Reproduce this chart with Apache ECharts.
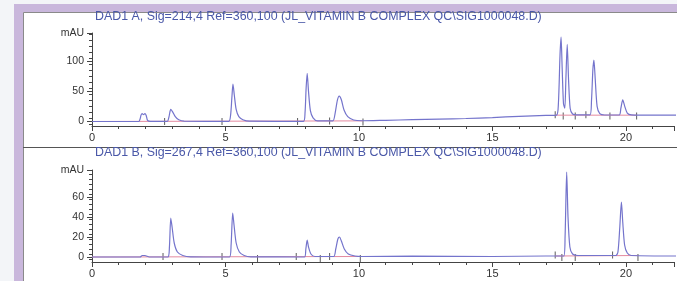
<!DOCTYPE html>
<html>
<head>
<meta charset="utf-8">
<script src="https://cdn.jsdelivr.net/npm/echarts@6/dist/echarts.min.js"></script>
<style>
    html, body {margin: 0; padding: 0; background: #f3f5f8;}
    #chart {width: 677px; height: 281px;}
</style>
</head>
<body>
<div id="chart"></div>
<script>
    // DAD1 A signal, [time min, mAU]
    var sigA = [
        [0, 0], [1.75, 0], [1.8, 4], [1.84, 11], [1.88, 13], [1.93, 11.5], [1.98, 13], [2.03, 10], [2.08, 2], [2.2, 0.3],
        [2.82, 0.3], [2.88, 7], [2.95, 20], [3.02, 16], [3.12, 8], [3.25, 3], [3.45, 0.6],
        [5.12, 0.3], [5.19, 10], [5.24, 40], [5.28, 62], [5.33, 44], [5.4, 20], [5.5, 8], [5.65, 3], [5.9, 0.5],
        [7.92, 0.3], [7.98, 15], [8.02, 55], [8.06, 80], [8.11, 50], [8.18, 18], [8.28, 6], [8.45, 1],
        [9.02, 1], [9.1, 12], [9.19, 35], [9.26, 42], [9.34, 36], [9.44, 19], [9.58, 8], [9.8, 2.5], [10.1, 1.2],
        [11, 2], [12, 3], [13, 4], [14, 5], [15, 6.5], [16, 8.5], [17, 10], [17.4, 10.5],
        [17.47, 30], [17.53, 110], [17.57, 140], [17.61, 90], [17.66, 30], [17.71, 22], [17.75, 70], [17.8, 128], [17.85, 70], [17.91, 22], [18.0, 12.5], [18.15, 11],
        [18.65, 11], [18.71, 35], [18.76, 85], [18.8, 102], [18.85, 70], [18.92, 25], [19.02, 13], [19.2, 10.8],
        [19.75, 10.8], [19.81, 22], [19.88, 36], [19.95, 26], [20.05, 14], [20.2, 11], [21, 10.5], [22, 10.5]
    ];
    // DAD1 B signal, [time min, mAU]
    var sigB = [
        [0, 0], [1.8, 0], [1.88, 1.5], [1.98, 1.5], [2.15, 0],
        [2.84, 0], [2.9, 10], [2.95, 39], [3.0, 30], [3.08, 14], [3.2, 5], [3.4, 1.5], [3.7, 0.2],
        [5.15, 0], [5.21, 12], [5.27, 44], [5.32, 32], [5.4, 14], [5.52, 5], [5.7, 1.5], [5.95, 0.2],
        [7.96, 0], [8.01, 8], [8.06, 17], [8.11, 10], [8.2, 3], [8.35, 0.5],
        [9.05, 0.5], [9.13, 8], [9.21, 18], [9.27, 20], [9.34, 16], [9.45, 8], [9.6, 3], [9.85, 1], [10.1, 0.5],
        [12, 0.8], [15, 0.5], [17, 1], [17.67, 1], [17.72, 20], [17.78, 85], [17.83, 40], [17.9, 10], [18.0, 3], [18.2, 1.5],
        [19.62, 1.5], [19.7, 5], [19.77, 30], [19.83, 55], [19.88, 35], [19.95, 12], [20.05, 4], [20.2, 1.5], [22, 1]
    ];
    // integration baselines
    var baseA = [[[0, 0], [10.15, 1]], [[17.35, 10.5], [20.4, 10.5]]];
    var baseB = [[[0, 0], [10.05, 0.5]], [[17.35, 1], [20.45, 1.5]]];
    // integration event marks
    var marksA = [[2.72, 0], [4.87, 0], [7.7, 0], [8.9, 0.8], [10.15, -1], [17.35, 11], [17.65, 9], [18.1, 9], [18.5, 11], [19.4, 9], [20.4, 9]];
    var marksB = [[2.66, 0.5], [4.87, 0.5], [6.2, -1.5], [7.65, 0.5], [8.55, -1.5], [8.9, 0.5], [10.05, -1.5], [17.35, 2], [17.6, -0.5], [18.1, -0.5], [19.5, 2], [20.45, -0.5]];

    var titles = [
        'DAD1 A, Sig=214,4 Ref=360,100 (JL_VITAMIN B COMPLEX QC\\SIG1000048.D)',
        'DAD1 B, Sig=267,4 Ref=360,100 (JL_VITAMIN B COMPLEX QC\\SIG1000048.D)'
    ];
    var yLabelsA = [0, 50, 100];
    var yLabelsB = [0, 20, 40, 60];
    var yRangeA = [-7.5, 147];
    var yRangeB = [-5, 87];
    var xMax = 21.8;

    var lineColor = '#7474cc';
    var baseColor = '#e48aa0';
    var axisColor = '#444';
    var font = 'Liberation Sans';

    var range = function (from, to, step) {
        var out = [];
        for (var v = from; v <= to + 1e-9; v += step) out.push(v);
        return out;
    };

    var makeY = function (gi, yr, labels, minorStep) {
        return [{
            type: 'value', gridIndex: gi, min: yr[0], max: yr[1], position: 'left',
            axisLine: {show: true, lineStyle: {color: axisColor}},
            axisTick: {show: true, length: 5, customValues: labels.concat([yr[1]]), lineStyle: {color: axisColor}},
            axisLabel: {
                customValues: labels.concat([yr[1]]), margin: 8,
                color: '#333', fontSize: 10.5, fontFamily: font,
                formatter: function (v) { return v === yr[1] ? 'mAU' : v; }
            },
            splitLine: {show: false}
        }, {
            type: 'value', gridIndex: gi, min: yr[0], max: yr[1], position: 'left', offset: 0,
            axisLine: {show: false},
            axisTick: {show: true, length: 3, customValues: range(-minorStep / 2 > yr[0] ? -minorStep / 2 : 0, yr[1] - 1, minorStep), lineStyle: {color: axisColor}},
            axisLabel: {show: false},
            splitLine: {show: false}
        }];
    };

    var makeX = function (gi) {
        return {
            type: 'value', gridIndex: gi, min: 0, max: xMax, interval: 5,
            axisLine: {onZero: false, lineStyle: {color: axisColor}},
            axisTick: {length: 5, lineStyle: {color: axisColor}},
            minorTick: {show: true, splitNumber: 5, length: 3, lineStyle: {color: axisColor}},
            axisLabel: {
                margin: 6, color: '#333', fontSize: 11, fontFamily: font,
                formatter: function (v) { return v > xMax - 0.5 ? '' : v; }
            },
            splitLine: {show: false}
        };
    };

    var series = [];
    var addPanel = function (gi, sig, bases, marks) {
        bases.forEach(function (seg) {
            series.push({
                type: 'line', xAxisIndex: gi, yAxisIndex: gi * 2, data: seg, symbol: 'none',
                lineStyle: {color: baseColor, width: 1}, silent: true
            });
        });
        series.push({
            type: 'line', xAxisIndex: gi, yAxisIndex: gi * 2, data: sig, symbol: 'none', smooth: 0.25,
            lineStyle: {color: lineColor, width: 1.2}, silent: true
        });
        series.push({
            type: 'scatter', xAxisIndex: gi, yAxisIndex: gi * 2, data: marks, symbol: 'rect',
            symbolSize: [1, 7], itemStyle: {color: '#333'}, silent: true
        });
    };
    addPanel(0, sigA, baseA, marksA);
    addPanel(1, sigB, baseB, marksB);

    var chart = echarts.init(document.getElementById('chart'));
    chart.setOption({
        animation: false,
        graphic: [
            {type: 'rect', shape: {x: 14, y: 4, width: 670, height: 280}, style: {fill: '#c9b7dc'}, z: -10},
            {type: 'rect', shape: {x: 23.5, y: 12.5, width: 670, height: 280}, style: {fill: '#fff', stroke: '#8a8a8a', lineWidth: 1}, z: -9},
            {type: 'line', shape: {x1: 23, y1: 147.5, x2: 677, y2: 147.5}, style: {stroke: '#555', lineWidth: 1}, z: -8}
        ],
        title: [
            {text: titles[0], left: 95, top: 11, textStyle: {color: '#4a58a8', fontSize: 12.4, fontWeight: 'normal', fontFamily: font}, padding: 0},
            {text: titles[1], left: 95, top: 147, textStyle: {color: '#4a58a8', fontSize: 12.4, fontWeight: 'normal', fontFamily: font}, padding: 0}
        ],
        grid: [
            {left: 92, right: 0, top: 33, height: 93},
            {left: 92, right: 0, top: 170, height: 92}
        ],
        xAxis: [makeX(0), makeX(1)],
        yAxis: makeY(0, yRangeA, yLabelsA, 10).concat(makeY(1, yRangeB, yLabelsB, 5)),
        series: series
    });
</script>
</body>
</html>
